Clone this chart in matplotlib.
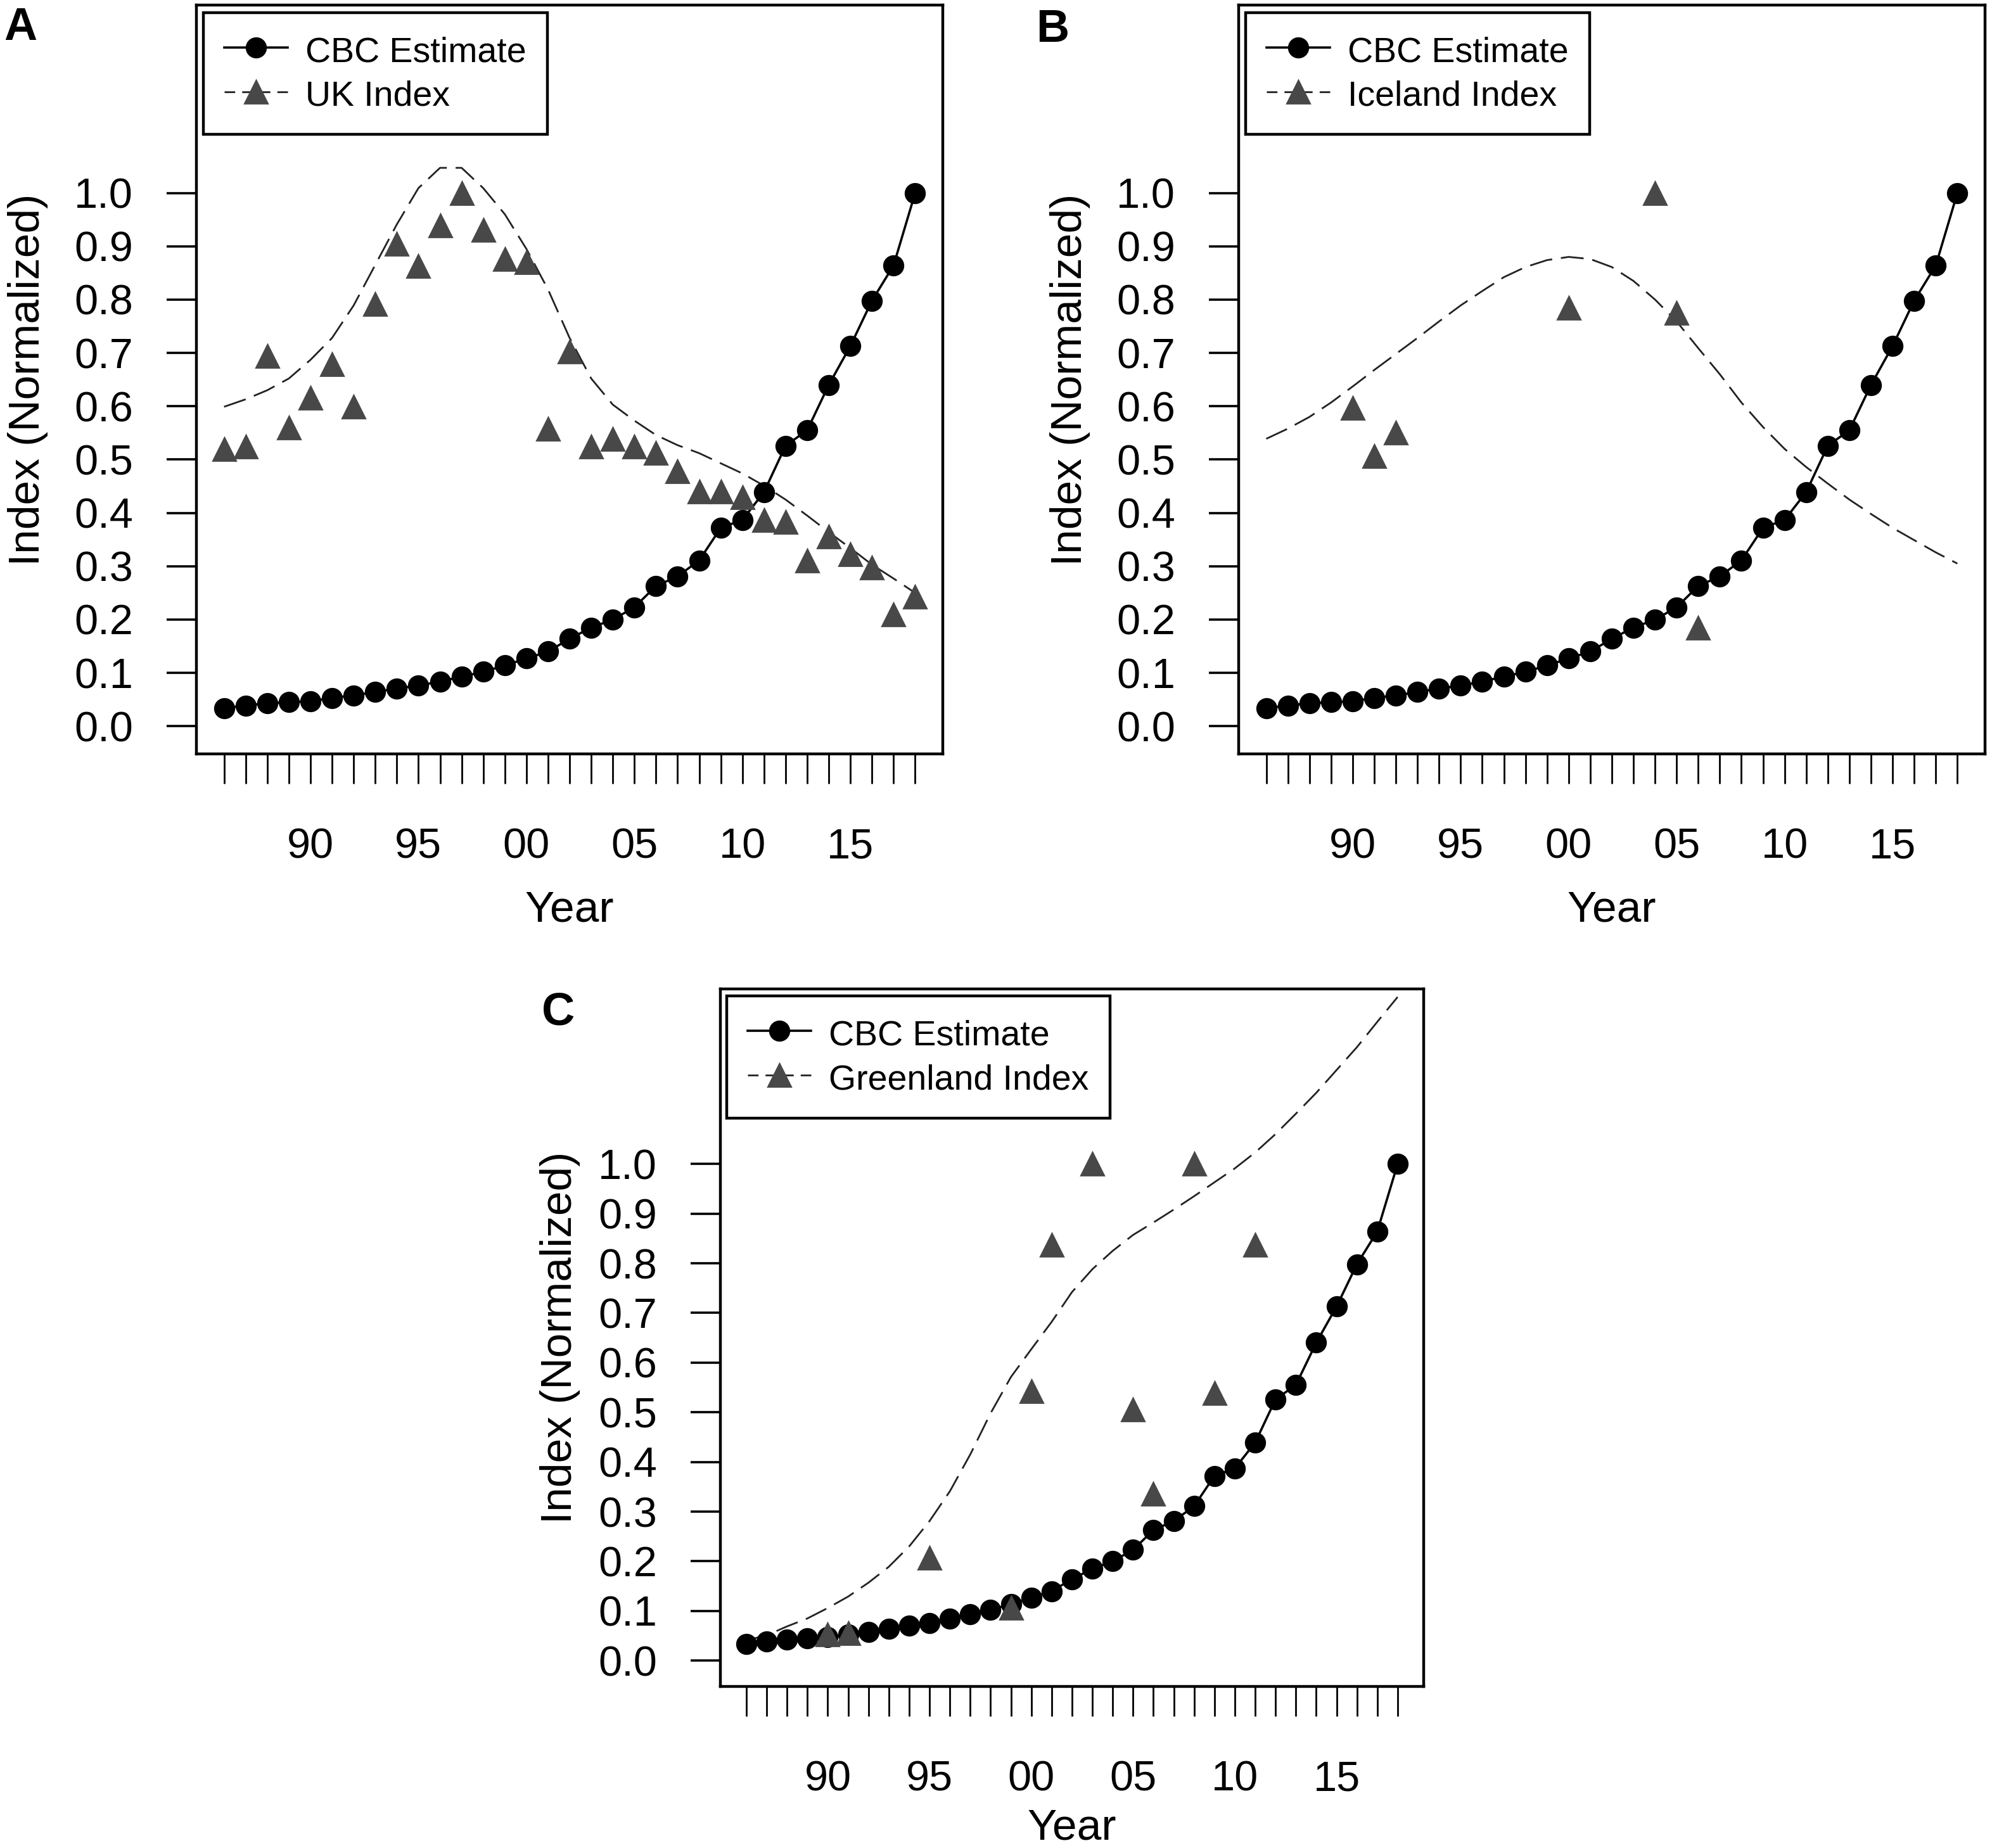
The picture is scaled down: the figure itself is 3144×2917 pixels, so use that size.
import matplotlib.pyplot as plt
from matplotlib.lines import Line2D

plt.rcParams['font.family'] = ['Liberation Sans', 'DejaVu Sans']

# years shown on every panel
years = list(range(1986, 2019))

# CBC estimate (same series in all three panels)
cbc_estimate = [0.034, 0.039, 0.043, 0.045, 0.047, 0.053, 0.058, 0.064, 0.071, 0.076,
                0.084, 0.093, 0.102, 0.114, 0.127, 0.140, 0.164, 0.185, 0.200, 0.223,
                0.263, 0.281, 0.311, 0.372, 0.387, 0.439, 0.526, 0.555, 0.640, 0.713,
                0.798, 0.864, 1.000]

# UK index points and smoothed curve
uk_years = years
uk_index = [0.520, 0.524, 0.694, 0.560, 0.616, 0.679, 0.599, 0.791, 0.904, 0.863,
            0.939, 1.000, 0.931, 0.876, 0.870, 0.558, 0.702, 0.524, 0.539, 0.524,
            0.512, 0.478, 0.440, 0.440, 0.429, 0.387, 0.383, 0.311, 0.355, 0.322,
            0.297, 0.209, 0.243]
uk_smooth = [0.599, 0.613, 0.630, 0.652, 0.687, 0.728, 0.789, 0.865, 0.941, 1.009,
             1.047, 1.047, 1.009, 0.960, 0.895, 0.819, 0.728, 0.652, 0.603, 0.573,
             0.546, 0.527, 0.512, 0.493, 0.474, 0.451, 0.425, 0.395, 0.364, 0.334,
             0.303, 0.277, 0.250]

# Iceland index
iceland_years = [1990, 1991, 1992, 2000, 2004, 2005, 2006]
iceland_index = [0.597, 0.507, 0.550, 0.785, 1.000, 0.775, 0.184]
iceland_smooth = [0.539, 0.558, 0.580, 0.607, 0.637, 0.668, 0.698, 0.728, 0.759, 0.789,
                  0.816, 0.842, 0.861, 0.874, 0.880, 0.876, 0.861, 0.835, 0.800, 0.759,
                  0.709, 0.660, 0.607, 0.561, 0.520, 0.486, 0.455, 0.425, 0.398, 0.372,
                  0.349, 0.326, 0.305]

# Greenland index
greenland_years = [1990, 1991, 1995, 1999, 2000, 2001, 2003, 2005, 2006, 2008, 2009, 2011]
greenland_index = [0.053, 0.055, 0.207, 0.106, 0.542, 0.837, 1.000, 0.505, 0.336, 1.000,
                   0.539, 0.837]
greenland_smooth = [0.041, 0.051, 0.069, 0.085, 0.106, 0.129, 0.157, 0.189, 0.230, 0.281,
                    0.341, 0.415, 0.498, 0.571, 0.627, 0.682, 0.742, 0.788, 0.825, 0.857,
                    0.882, 0.908, 0.935, 0.963, 0.991, 1.023, 1.060, 1.101, 1.143, 1.189,
                    1.235, 1.286, 1.336]

year_labels = {1990: '90', 1995: '95', 2000: '00', 2005: '05', 2010: '10', 2015: '15'}
y_ticks = [i / 10 for i in range(11)]

TRI = '#484848'
DASH = '#222222'


def draw_panel(ax, idx_years, idx_values, smooth, name, letter, letter_xy, xlab_y):
    ax.plot(years, smooth, color=DASH, lw=1.0, dashes=(13, 5), zorder=2)
    cbc_line, = ax.plot(years, cbc_estimate, color='black', lw=1.3, marker='o',
                        markersize=11, zorder=3)
    ax.plot(idx_years, idx_values, ls='none', marker='^', markersize=13,
            color=TRI, zorder=4)

    ax.set_xlim(1984.72, 2019.28)
    ax.set_ylim(-0.052, 1.352)
    ax.set_xticks(years)
    ax.set_xticklabels([year_labels.get(y, '') for y in years])
    ax.set_yticks(y_ticks)
    ax.set_yticklabels([f'{v:.1f}' for v in y_ticks])
    ax.tick_params(axis='x', length=17, width=1.0, pad=25, labelsize=24)
    ax.tick_params(axis='y', length=17, width=1.3, pad=19, labelsize=24)
    for sp in ax.spines.values():
        sp.set_linewidth(1.6)

    ax.set_xlabel('Year', fontsize=25)
    ax.xaxis.set_label_coords(0.5, xlab_y)
    ax.set_ylabel('Index (Normalized)', fontsize=25)
    ax.yaxis.set_label_coords(-0.199, 0.5)

    idx_handle = Line2D([], [], color=DASH, lw=1.0, dashes=(6, 4), marker='^',
                        markersize=13, markerfacecolor=TRI, markeredgecolor=TRI)
    leg = ax.legend([cbc_line, idx_handle], ['CBC Estimate', name],
                    loc='upper left', bbox_to_anchor=(0.009, 0.99), borderaxespad=0,
                    fontsize=20, fancybox=False, edgecolor='black', framealpha=1,
                    borderpad=0.6, labelspacing=0.25, handlelength=1.8,
                    handletextpad=0.5, handleheight=1.0, numpoints=1)
    leg.get_frame().set_linewidth(1.6)

    fig.text(letter_xy[0], letter_xy[1], letter, fontsize=26, fontweight='bold',
             ha='left', va='top')


fig = plt.figure(figsize=(15.72, 14.585), dpi=200)
ax_a = fig.add_axes([0.0986, 0.5920, 0.3747, 0.4052])
ax_b = fig.add_axes([0.6218, 0.5920, 0.3747, 0.4052])
ax_c = fig.add_axes([0.3616, 0.0874, 0.3531, 0.3774])

draw_panel(ax_a, uk_years, uk_index, uk_smooth, 'UK Index', 'A', (0.002, 0.9965),
           -0.181)
draw_panel(ax_b, iceland_years, iceland_index, iceland_smooth, 'Iceland Index', 'B',
           (0.520, 0.9955), -0.181)
draw_panel(ax_c, greenland_years, greenland_index, greenland_smooth, 'Greenland Index',
           'C', (0.272, 0.4635), -0.174)

fig.savefig('out.png', dpi=200)
